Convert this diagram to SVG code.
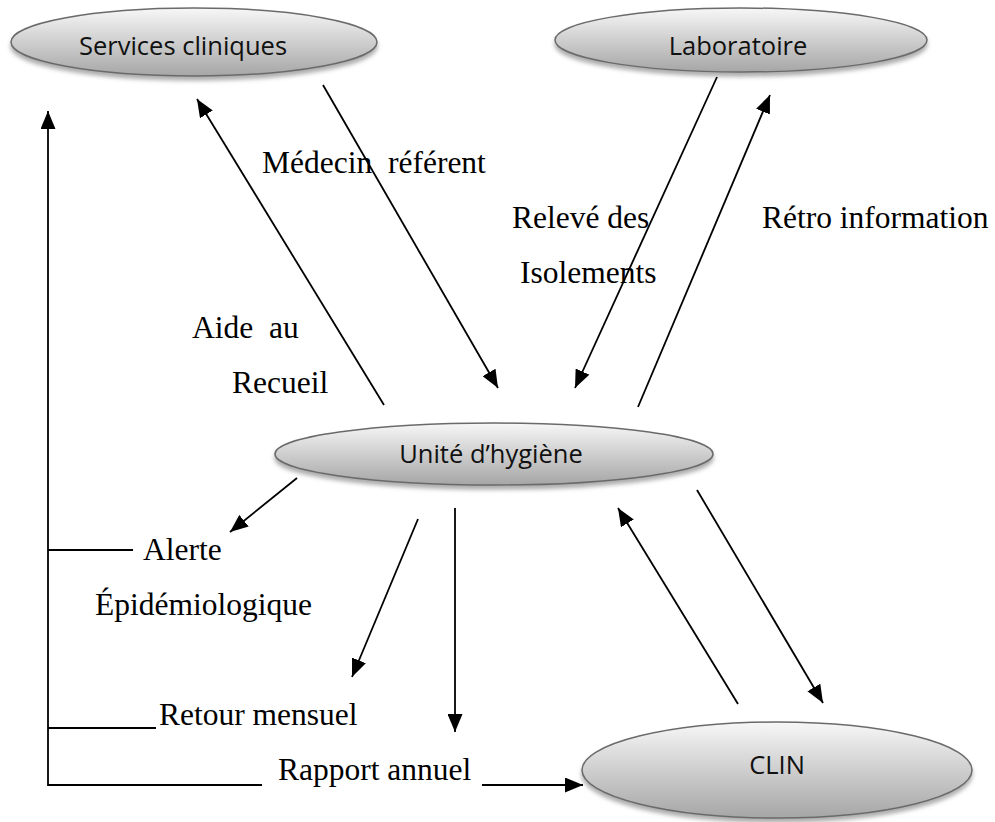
<svg xmlns="http://www.w3.org/2000/svg" width="995" height="822" viewBox="0 0 995 822">
<style>
.node{fill:url(#g);stroke:#6b6b6b;stroke-width:1.5;filter:url(#sh)}
.nt{font-family:"Open Sans","Liberation Sans",sans-serif;font-size:25.5px;fill:#111;text-anchor:middle}
.lb{font-family:"Liberation Serif","Times New Roman",serif;font-size:31.5px;fill:#000;white-space:pre}
.c{stroke:#000;stroke-width:1.8;fill:none}
.a{marker-end:url(#ah)}
</style>
<defs>
<linearGradient id="g" x1="0" y1="0" x2="0" y2="1">
<stop offset="0" stop-color="#f7f7f7"/>
<stop offset="1" stop-color="#a6a6a6"/>
</linearGradient>
<filter id="sh" x="-10%" y="-20%" width="120%" height="150%">
<feDropShadow dx="0" dy="4" stdDeviation="2" flood-color="#777" flood-opacity="0.6"/>
</filter>
<marker id="ah" markerUnits="userSpaceOnUse" markerWidth="19" markerHeight="15" refX="18" refY="7.5" orient="auto">
<path d="M0,0 L18,7.5 L0,15 z" fill="#000"/>
</marker>
</defs>
<rect width="995" height="822" fill="#fff"/>
<g id="services-cliniques">
<ellipse class="node" cx="194" cy="42" rx="183" ry="34"/>
<text class="nt" x="183" y="55">Services cliniques</text>
</g>
<g id="laboratoire">
<ellipse class="node" cx="741" cy="40" rx="186" ry="32"/>
<text class="nt" x="738" y="55">Laboratoire</text>
</g>
<g id="unite-hygiene">
<ellipse class="node" cx="494" cy="454" rx="219" ry="31"/>
<text class="nt" x="491" y="463">Unité d’hygiène</text>
</g>
<g id="clin">
<ellipse class="node" cx="777" cy="770" rx="195" ry="48"/>
<text class="nt" x="777" y="774">CLIN</text>
</g>
<g id="connectors">
<line class="c a" x1="384" y1="405" x2="197" y2="99"/>
<line class="c a" x1="323" y1="85" x2="498" y2="388"/>
<line class="c a" x1="717" y1="77" x2="575" y2="388"/>
<line class="c a" x1="638" y1="407" x2="770" y2="95"/>
<line class="c a" x1="297" y1="478" x2="230" y2="532"/>
<line class="c a" x1="418" y1="519" x2="352" y2="677"/>
<line class="c a" x1="455" y1="508" x2="455" y2="732"/>
<line class="c a" x1="738" y1="704" x2="618" y2="508"/>
<line class="c a" x1="697" y1="490" x2="823" y2="703"/>
<polyline class="c a" points="262,785 48,785 48,111"/>
<line class="c" x1="48" y1="550" x2="133" y2="550"/>
<line class="c" x1="48" y1="728" x2="156" y2="728"/>
<line class="c a" x1="482" y1="785" x2="583" y2="785"/>
</g>
<g id="labels">
<text class="lb" x="262" y="173">Médecin  référent</text>
<text class="lb" x="512" y="228">Relevé des</text>
<text class="lb" x="520" y="283">Isolements</text>
<text class="lb" x="762" y="228">Rétro information</text>
<text class="lb" x="192" y="338">Aide  au</text>
<text class="lb" x="232" y="393">Recueil</text>
<text class="lb" x="143" y="560">Alerte</text>
<text class="lb" x="95" y="615">Épidémiologique</text>
<text class="lb" x="159" y="725">Retour mensuel</text>
<text class="lb" x="278" y="780">Rapport annuel</text>
</g>
</svg>
